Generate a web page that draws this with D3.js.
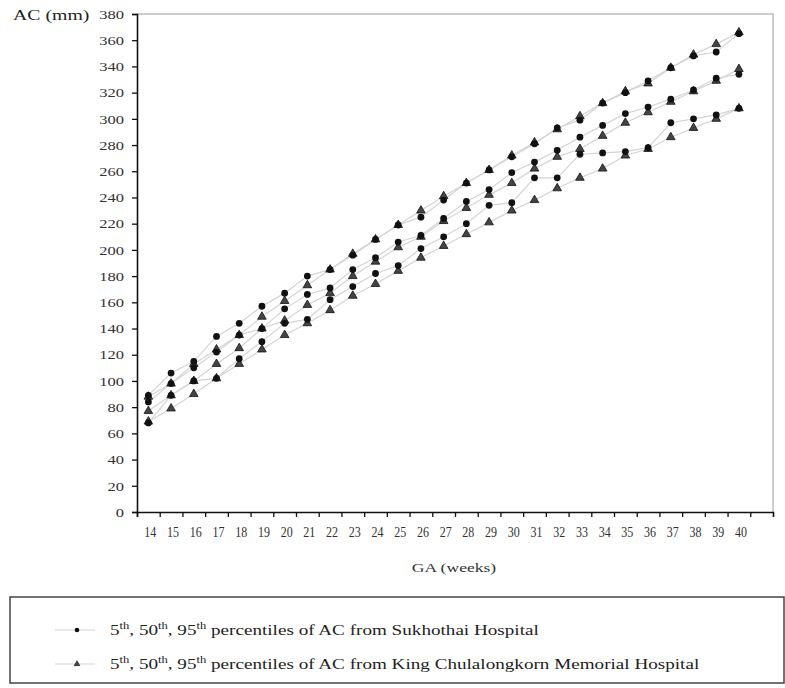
<!DOCTYPE html>
<html>
<head>
<meta charset="utf-8">
<script src="https://cdn.jsdelivr.net/npm/d3@7"></script>
<style>
  html, body { margin: 0; padding: 0; background: #fff; }
  svg { display: block; font-family: "Liberation Serif", "Times New Roman", serif; }
</style>
</head>
<body>
<svg id="chart" width="785" height="688"></svg>
<script>
// ---- Data ----
const weeks = [14,15,16,17,18,19,20,21,22,23,24,25,26,27,28,29,30,31,32,33,34,35,36,37,38,39,40];

// Sukhothai Hospital (circles)
const suk95 = [89,106,115,134,144,157,167,180,185,196,208,219,225,238,251,261,271,281,293,299,312,320,329,339,348,351,365];
const suk50 = [84,98,110,122,135,140,155,166,171,185,194,206,211,224,237,246,259,267,276,286,295,304,309,315,322,331,334];
const suk5  = [68,89,100,102,117,130,144,147,162,172,182,188,201,210,220,234,236,255,255,273,274,275,278,297,300,303,308];

// King Chulalongkorn Memorial Hospital (triangles)
const kc95 = [88,98,113,124,135,149,161,173,185,197,208,219,230,241,251,261,272,282,292,302,312,321,327,339,349,357,366];
const kc50 = [77,89,100,113,125,140,146,158,167,180,191,202,210,222,232,242,251,262,271,277,287,297,305,313,321,329,338];
const kc5  = [69,79,90,102,113,124,135,144,154,165,174,184,194,203,212,221,230,238,247,255,262,272,277,286,293,300,308];

const yTicks = d3.range(0, 381, 20);
const yLabel = "AC (mm)";
const xLabel = "GA (weeks)";
const legendItems = [
  { shape: "circle", hosp: "Sukhothai Hospital" },
  { shape: "triangle", hosp: "King Chulalongkorn Memorial Hospital" }
];

// ---- Layout ----
const svg = d3.select("#chart");
const pL = 137, pR = 773, pT = 14, pB = 512;
const SX = 1.32; // horizontal stretch of the reference's lettering

const x = d3.scaleLinear().domain([13.5, 41.5]).range([pL, pR]);
const y = d3.scaleLinear().domain([0, 380]).range([pB, pT]);

// plot frame (light gray top & right)
svg.append("path")
  .attr("d", `M${pL},${pT}H${pR}V${pB}`)
  .attr("fill", "none").attr("stroke", "#bdbdbd").attr("stroke-width", 1.5);

// Y axis
const yAxis = d3.axisLeft(y).tickValues(yTicks).tickSize(5).tickFormat(d3.format("d"));
const gy = svg.append("g").attr("transform", `translate(${pL},0)`).call(yAxis);
gy.select(".domain").attr("stroke", "#111").attr("stroke-width", 1.6);
gy.selectAll(".tick line").attr("stroke", "#111").attr("stroke-width", 1.3);
gy.selectAll(".tick text")
  .attr("x", 0).attr("dy", "0.34em")
  .attr("transform", `translate(-13,0) scale(${SX},1)`)
  .attr("font-family", "Liberation Serif, serif").attr("font-size", 12.5).attr("fill", "#333");

// X axis: ticks at band boundaries, labels at week centres
const boundaryTicks = d3.range(13.5, 41.0, 1);
const xAxisTicks = d3.axisBottom(x).tickValues(boundaryTicks).tickSize(5).tickFormat("");
const gx = svg.append("g").attr("transform", `translate(0,${pB})`).call(xAxisTicks);
gx.select(".domain").attr("stroke", "#111").attr("stroke-width", 1.6);
gx.selectAll(".tick line").attr("stroke", "#111").attr("stroke-width", 1.3);

const xLabelAxis = d3.axisBottom(x).tickValues(weeks).tickSize(0).tickPadding(15).tickFormat(d3.format("d"));
const gxl = svg.append("g").attr("transform", `translate(0,${pB})`).call(xLabelAxis);
gxl.select(".domain").remove();
gxl.selectAll(".tick text")
  .attr("x", 1.5)
  .attr("textLength", 12).attr("lengthAdjust", "spacingAndGlyphs")
  .attr("font-family", "Liberation Serif, serif").attr("font-size", 14.5).attr("fill", "#333");

// axis titles
svg.append("text").attr("transform", `translate(13,19.5) scale(${SX},1)`)
  .attr("font-size", 15).attr("fill", "#222").text(yLabel);
svg.append("text").attr("transform", `translate(454,572) scale(${SX},1)`)
  .attr("text-anchor", "middle").attr("font-size", 13.3).attr("fill", "#333").text(xLabel);

// ---- Series ----
const line = d3.line().x((d, i) => x(weeks[i])).y(d => y(d));
const triangle = d3.symbol().type(d3.symbolTriangle).size(32);

const kcSeries = [kc95, kc50, kc5];
const sukSeries = [suk95, suk50, suk5];

[...kcSeries, ...sukSeries].forEach(s => {
  svg.append("path").datum(s).attr("d", line)
    .attr("fill", "none").attr("stroke", "#d4d4d4").attr("stroke-width", 1.2);
});

kcSeries.forEach(s => {
  svg.append("g").selectAll("path").data(s).join("path")
    .attr("d", triangle)
    .attr("transform", (d, i) => `translate(${x(weeks[i])},${y(d)})`)
    .attr("fill", "#444").attr("stroke", "#111").attr("stroke-width", 0.8);
});

sukSeries.forEach(s => {
  svg.append("g").selectAll("circle").data(s).join("circle")
    .attr("cx", (d, i) => x(weeks[i])).attr("cy", d => y(d))
    .attr("r", 3.4).attr("fill", "#111");
});

// ---- Legend ----
const lg = svg.append("g");
lg.append("rect").attr("x", 10).attr("y", 597).attr("width", 774).attr("height", 86)
  .attr("fill", "none").attr("stroke", "#444").attr("stroke-width", 1.5);

legendItems.forEach((it, i) => {
  const cy = 630 + i * 34;
  lg.append("line").attr("x1", 55).attr("x2", 95).attr("y1", cy).attr("y2", cy)
    .attr("stroke", "#d4d4d4").attr("stroke-width", 1.2);
  if (it.shape === "circle") {
    lg.append("circle").attr("cx", 77).attr("cy", cy).attr("r", 2.3).attr("fill", "#111");
  } else {
    lg.append("path").attr("d", d3.symbol().type(d3.symbolTriangle).size(14))
      .attr("transform", `translate(77,${cy})`).attr("fill", "#444").attr("stroke", "#111").attr("stroke-width", 0.6);
  }
  const t = lg.append("text").attr("transform", `translate(110,${cy + 5}) scale(${SX},1)`)
    .attr("font-size", 14.5).attr("fill", "#222");
  const parts = [["5", "th"], [", 50", "th"], [", 95", "th"]];
  parts.forEach(([base, sup], k) => {
    const b = t.append("tspan").text(base);
    if (k > 0) b.attr("dy", 6);
    t.append("tspan").attr("dy", -6).attr("font-size", 9.5).text(sup);
  });
  t.append("tspan").attr("dy", 6).text(" percentiles of AC from " + it.hosp);
});
</script>
</body>
</html>
